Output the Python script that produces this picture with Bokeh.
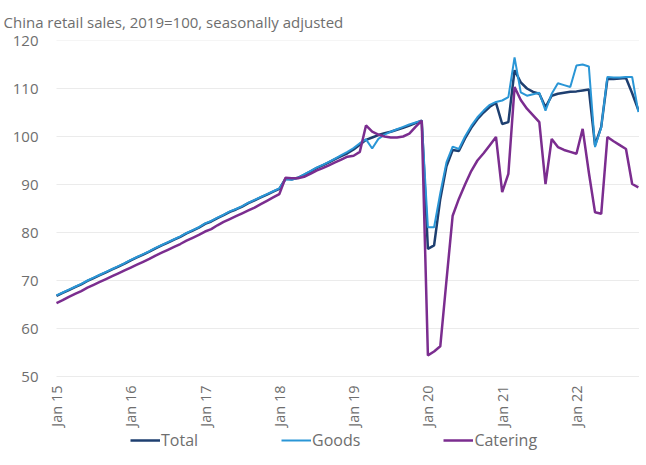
from bokeh.plotting import figure
from bokeh.models import Range1d, FixedTicker, Legend, LegendItem
from bokeh.core.properties import value
from bokeh.embed import file_html
from bokeh.resources import INLINE
import math

# Monthly index: 0 = Jan 2015 ... 94 = Nov 2022
months = list(range(95))
tick_pos = [0, 12, 24, 36, 48, 60, 72, 84]
tick_labels = ["Jan 15", "Jan 16", "Jan 17", "Jan 18", "Jan 19", "Jan 20", "Jan 21", "Jan 22"]
y_ticks = [50, 60, 70, 80, 90, 100, 110, 120]

total = [
    66.8, 67.4, 68.0, 68.6, 69.2, 69.9, 70.5, 71.1, 71.7, 72.3, 72.9, 73.5,
    74.2, 74.8, 75.4, 76.0, 76.7, 77.3, 77.9, 78.5, 79.1, 79.8, 80.4, 81.0,
    81.8, 82.3, 83.0, 83.6, 84.3, 84.8, 85.4, 86.1, 86.7, 87.3, 87.9, 88.5,
    89.1, 91.2, 91.1, 91.4, 92.0, 92.7, 93.4, 94.0, 94.6, 95.3, 95.9, 96.5,
    97.3, 98.3, 99.3, 99.8, 100.3, 100.7, 101.0, 101.4, 101.8, 102.3, 102.8, 103.3,
    76.6, 77.3, 87.0, 93.8, 97.2, 97.0, 99.6, 101.8, 103.6, 105.0, 106.2, 107.0,
    102.6, 103.0, 113.8, 111.3, 110.0, 109.3, 108.9, 106.1, 108.5, 108.9, 109.1, 109.3,
    109.4, 109.6, 109.8, 98.2, 102.0, 112.0, 112.0, 112.1, 112.2, 109.0, 105.5,
]

goods = [
    66.9, 67.5, 68.1, 68.7, 69.3, 70.0, 70.6, 71.2, 71.8, 72.4, 73.0, 73.6,
    74.3, 74.9, 75.5, 76.1, 76.8, 77.4, 78.0, 78.6, 79.2, 79.9, 80.5, 81.1,
    81.9, 82.4, 83.1, 83.7, 84.4, 84.9, 85.5, 86.2, 86.8, 87.4, 88.0, 88.6,
    89.2, 91.1, 91.0, 91.4, 92.1, 92.8, 93.5, 94.1, 94.7, 95.4, 96.1, 96.8,
    97.6, 98.6, 99.4, 97.5, 99.5, 100.4, 101.0, 101.5, 102.0, 102.5, 102.9, 103.3,
    81.1, 81.1, 88.2, 94.6, 97.9, 97.4, 100.0, 102.2, 104.0, 105.4, 106.6, 107.2,
    107.5, 108.2, 116.5, 109.2, 108.5, 108.8, 109.1, 105.4, 108.9, 111.1, 110.7, 110.3,
    114.8, 115.0, 114.6, 97.8, 101.9, 112.4, 112.3, 112.3, 112.4, 112.4, 105.1,
]

catering = [
    65.3, 65.9, 66.6, 67.2, 67.8, 68.5, 69.1, 69.7, 70.3, 70.9, 71.5, 72.1,
    72.7, 73.3, 73.9, 74.5, 75.2, 75.8, 76.4, 77.0, 77.6, 78.3, 78.9, 79.5,
    80.2, 80.7, 81.5, 82.2, 82.8, 83.4, 84.0, 84.6, 85.2, 85.9, 86.6, 87.3,
    88.0, 91.4, 91.3, 91.3, 91.6, 92.2, 92.9, 93.4, 94.0, 94.6, 95.2, 95.8,
    96.0, 96.8, 102.3, 101.0, 100.4, 100.0, 99.8, 99.8, 100.0, 100.6, 102.0, 103.3,
    54.4, 55.2, 56.3, 70.0, 83.5, 87.0, 90.0, 92.8, 95.0, 96.5, 98.2, 99.9,
    88.4, 92.2, 110.3, 107.6, 105.8, 104.4, 103.0, 90.1, 99.5, 97.8, 97.2, 96.8,
    96.4, 101.6, 92.5, 84.2, 83.9, 99.9, 99.0, 98.2, 97.4, 90.1, 89.4,
]

FONT = "Open Sans"
GRAY = "#6e6e6e"

# frame geometry (pixels): 4.8 px per index point, 6.19 px per month
PX_PER_UNIT = 4.8
PX_PER_MONTH = 6.19
FRAME_H = 411
FRAME_W = 591
LEFT_PAD = 8  # px between frame edge and first month (room for the first label)
y_top = 120
y_bottom = y_top - FRAME_H / PX_PER_UNIT
x_start = -LEFT_PAD / PX_PER_MONTH
x_end = x_start + FRAME_W / PX_PER_MONTH

p = figure(frame_width=FRAME_W, frame_height=FRAME_H, output_backend="svg", toolbar_location=None,
           x_range=Range1d(x_start, x_end), y_range=Range1d(y_bottom, y_top),
           x_axis_location=None,
           min_border_left=48, min_border_right=0, min_border_top=38, min_border_bottom=0)

p.title.text = "China retail sales, 2019=100, seasonally adjusted"
p.title.text_font = FONT
p.title.text_font_size = "15px"
p.title.text_font_style = "normal"
p.title.text_color = GRAY
p.title.align = "left"
p.title.offset = -45
p.title.standoff = 18

p.outline_line_color = None
p.background_fill_color = "white"
p.border_fill_color = "white"

p.xgrid.grid_line_color = None
p.ygrid.grid_line_color = None
p.yaxis.ticker = FixedTicker(ticks=y_ticks)
p.yaxis.axis_line_color = None
p.yaxis.major_tick_line_color = None
p.yaxis.minor_tick_line_color = None
p.yaxis.major_tick_out = 0
p.yaxis.major_tick_in = 0
p.yaxis.major_label_text_font = FONT
p.yaxis.major_label_text_color = GRAY
p.yaxis.major_label_text_font_size = "15px"
p.yaxis.major_label_standoff = 10

# horizontal grid lines, starting at the first month
p.segment(x0=[months[0]] * len(y_ticks), y0=y_ticks, x1=[x_end] * len(y_ticks), y1=y_ticks,
          line_color="#ebebeb", line_width=1)

# rotated month labels under the 50 line
label_y = y_ticks[0] - 9 / PX_PER_UNIT
p.text(x=tick_pos, y=[label_y] * len(tick_pos), text=tick_labels, angle=math.pi / 2,
       text_align="right", text_baseline="middle", text_font=value(FONT),
       text_font_size="14.5px", text_color=GRAY)

r_total = p.line(months, total, line_color="#1e3f70", line_width=2.5)
r_goods = p.line(months, goods, line_color="#2a96d6", line_width=2.0)
r_cat = p.line(months, catering, line_color="#7b2d8f", line_width=2.5)

legend = Legend(items=[LegendItem(label="Total", renderers=[r_total]),
                       LegendItem(label="Goods", renderers=[r_goods]),
                       LegendItem(label="Catering", renderers=[r_cat])],
                orientation="horizontal", location=(82, 0),
                glyph_width=30, glyph_height=16, label_height=16, label_standoff=1, spacing=83,
                padding=0, margin=0, border_line_alpha=0, background_fill_alpha=0,
                label_text_font=FONT, label_text_font_size="16px", label_text_color=GRAY)
p.add_layout(legend, "center")

open("out.html", "w").write(file_html(p, INLINE))
